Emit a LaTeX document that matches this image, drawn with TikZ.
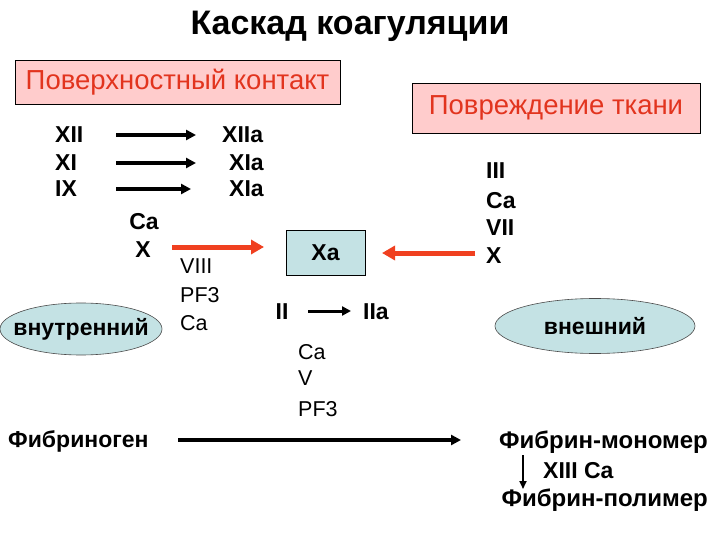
\documentclass[tikz,border=0pt]{standalone}
\usepackage{fontspec}
\setmainfont{Liberation Sans}
\usetikzlibrary{arrows.meta,shapes.geometric}
\definecolor{pinkfill}{RGB}{255,204,204}
\definecolor{redtxt}{RGB}{226,52,30}
\definecolor{redarr}{RGB}{240,64,32}
\definecolor{bluefill}{RGB}{196,226,228}
\tikzset{
  lbl/.style={inner sep=0pt, font=\bfseries\fontsize{23}{25}\selectfont},
  nlbl/.style={inner sep=0pt, font=\fontsize{21.5}{23}\selectfont},
  pinkbox/.style={draw=black, line width=0.8pt, fill=pinkfill, text=redtxt, inner sep=0pt, font=\fontsize{27.5}{29}\selectfont},
  oval/.style={ellipse, draw=black!70, line width=0.6pt, fill=bluefill, inner sep=0pt},
  blk/.style={line width=3.5pt, -{Triangle[length=10pt,width=10pt]}},
  redarrow/.style={draw=redarr, line width=5pt, -{Triangle[length=13pt,width=14pt]}},
}
\begin{document}
\begin{tikzpicture}[x=1pt,y=-1pt]
\useasboundingbox (0,0) rectangle (720,540);
\fill[white] (0,0) rectangle (720,540);
% title
\node[inner sep=0pt, font=\bfseries\fontsize{34}{36}\selectfont] (title) at (350,26) {Каскад коагуляции};
% pink boxes
\node[pinkbox, minimum width=325pt, minimum height=44pt] (surf) at (177.5,82) {Поверхностный контакт};
\node[pinkbox, minimum width=288pt, minimum height=50pt] (dmg) at (556,108) {Повреждение ткани};
% left column
\node[lbl, anchor=west] (xii) at (55,135) {XII};
\node[lbl, anchor=west] (xi) at (55,163) {XI};
\node[lbl, anchor=west] (ix) at (55,189) {IX};
\node[lbl, anchor=west] (xiia) at (222,135) {XIIa};
\node[lbl, anchor=west] (xia1) at (229,163) {XIa};
\node[lbl, anchor=west] (xia2) at (229,189) {XIa};
\coordinate (a1s) at (116,135); \coordinate (a1e) at (196,135);
\coordinate (a2s) at (116,163); \coordinate (a2e) at (196,163);
\coordinate (a3s) at (116,189); \coordinate (a3e) at (191,189);
\draw[blk] (a1s) -- (a1e);
\draw[blk] (a2s) -- (a2e);
\draw[blk] (a3s) -- (a3e);
\node[lbl] (ca1) at (144,222) {Ca};
\node[lbl] (x1) at (143,250) {X};
\node[nlbl, anchor=west] (viii) at (180,266) {VIII};
\node[nlbl, anchor=west] (pf31) at (180,295) {PF3};
\node[nlbl, anchor=west] (ca2) at (180,323) {Ca};
% Xa
\node[draw=black, line width=0.8pt, fill=bluefill, minimum width=79pt, minimum height=45pt, inner sep=0pt, font=\bfseries\fontsize{23}{25}\selectfont] (xa) at (325.5,252.5) {Xa};
\coordinate (r1s) at (172,247);
\draw[redarrow] (r1s) -- (264,247);
% right column
\node[lbl, anchor=west] (iii) at (486,171) {III};
\node[lbl, anchor=west] (ca3) at (486,201) {Ca};
\node[lbl, anchor=west] (vii) at (486,228) {VII};
\node[lbl, anchor=west] (x2) at (486,256) {X};
\draw[redarrow] (475,253) -- (382,253);
% ovals
\node[oval, minimum width=162pt, minimum height=52pt] (intr) at (81,329) {};
\node[lbl] (intrt) at (intr.center) {внутренний};
\node[oval, minimum width=200pt, minimum height=55pt] (extr) at (595,326) {};
\node[lbl] (extrt) at (extr.center) {внешний};
% II -> IIa
\node[lbl] (ii) at (282,312) {II};
\node[lbl, anchor=west] (iia) at (363,312) {IIa};
\draw[line width=3pt, -{Triangle[length=9pt,width=9pt]}] (308,311) -- (351,311);
\node[nlbl, anchor=west] (ca4) at (298,352) {Ca};
\node[nlbl, anchor=west] (v) at (298,378) {V};
\node[nlbl, anchor=west] (pf32) at (298,409) {PF3};
% fibrin
\node[lbl, anchor=west] (fbg) at (8,441) {Фибриноген};
\draw[line width=4pt, -{Triangle[length=10pt,width=10pt]}] (178,440) -- (461,440);
\node[lbl, anchor=east, font=\bfseries\fontsize{24}{26}\selectfont] (mono) at (708,442) {Фибрин-мономер};
\node[lbl, anchor=west] (xiii) at (543,471) {XIII Ca};
\node[lbl, anchor=east, font=\bfseries\fontsize{24}{26}\selectfont] (poly) at (708,500) {Фибрин-полимер};
\draw[line width=1.8pt, -{Triangle[length=8pt,width=7pt]}] (523,455) -- (523,489);
\end{tikzpicture}
\end{document}
